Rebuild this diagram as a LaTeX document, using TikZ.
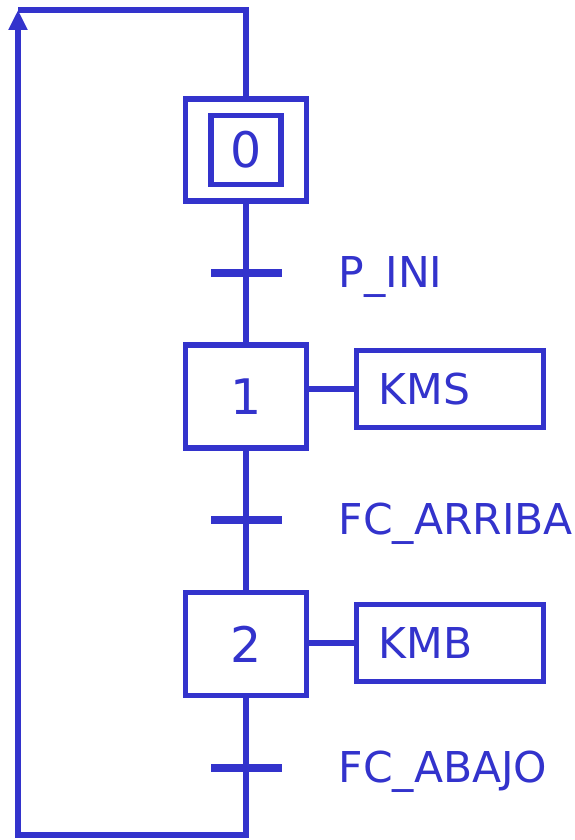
\documentclass[tikz,border=0pt]{standalone}
\usepackage{fontspec}
\setmainfont{DejaVu Sans}
\usetikzlibrary{arrows.meta}

\definecolor{grafblue}{RGB}{51,51,204}
\newcommand{\stepfont}{\fontsize{49bp}{56bp}\selectfont}
\newcommand{\condfont}{\fontsize{42.5bp}{50bp}\selectfont}

\begin{document}
\begin{tikzpicture}[x=1bp,y=1bp,color=grafblue,line width=5.5bp,
    stepbox/.style={draw,minimum width=121bp,minimum height=103bp,inner sep=0pt,font=\stepfont},
    actbox/.style={draw,minimum height=77bp,text width=143bp,inner xsep=22bp,align=left,font=\condfont},
    trans/.style={fill,minimum width=71bp,minimum height=7.5bp,inner sep=0pt,draw=none},
    cond/.style={anchor=base west,inner sep=0pt,font=\condfont}]
                \useasboundingbox (0,0) rectangle (575,840);
                % steps
                \node [stepbox,minimum height=102bp] (s0) at (246,690) {};
                \node [stepbox,minimum width=70bp,minimum height=69bp] (s0in) at (s0) {0};
                \node [stepbox] (s1) at (246,443.5) {1};
                \node [stepbox] (s2) at (246,196) {2};
                % transitions
                \node [trans] (t0) at (246,567) {};
                \node [trans] (t1) at (246,320) {};
                \node [trans] (t2) at (246,72) {};
                \node [cond] (c0) at (336,552) {P\_INI};
                \node [cond] (c1) at (336,305) {FC\_ARRIBA};
                \node [cond] (c2) at (336,57) {FC\_ABAJO};
                % actions
                \node [actbox] (a1) at (450,451) {KMS};
                \node [actbox] (a2) at (450,197) {KMB};
                \draw (s1.east |- a1.west) -- (a1.west);
                \draw (s2.east |- a2.west) -- (a2.west);
                % links
                \coordinate (top) at (246,830);
                \coordinate (tl)  at (18,830);
                \coordinate (bot) at (246,5);
                \coordinate (bl)  at (18,5);
                \draw (s0) -- (s1) -- (s2);
                \draw (s0) -- (top) -- (tl);
                \draw [-{Triangle[width=18bp,length=20bp]}] (s2) -- (bot) -- (bl) -- (tl);
\end{tikzpicture}
\end{document}
